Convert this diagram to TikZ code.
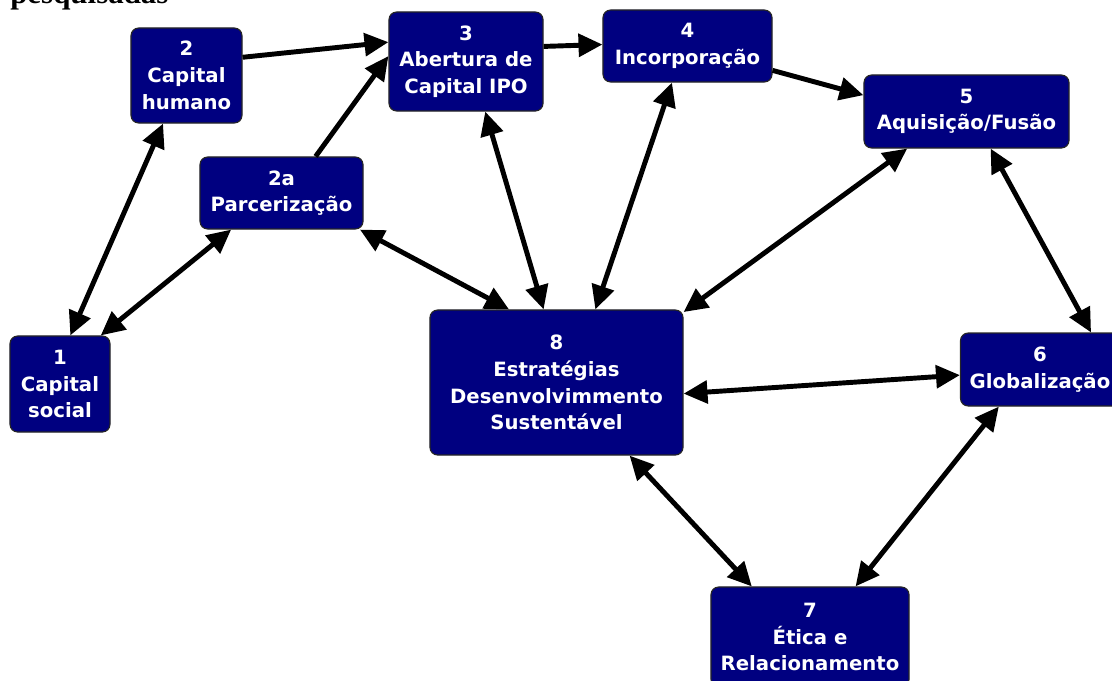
\documentclass[tikz,border=0pt]{standalone}
\usepackage{fontspec}
\setmainfont{DejaVu Sans}
\newfontfamily\titlefont{Liberation Serif}
\usepackage{tikz}
\usetikzlibrary{arrows.meta,positioning}
\definecolor{navybox}{RGB}{0,0,128}

\begin{document}
\begin{tikzpicture}[x=0.025cm,y=-0.025cm,
  box/.style={draw=black!85,line width=0.8pt,fill=navybox,rounded corners=5.5pt,text=white,inner sep=0pt,align=center,font=\fontsize{14}{19}\selectfont\bfseries},
  link/.style={line width=3.5pt,black},
  tip/.style={-{Triangle[length=17pt,width=16pt]}},
  tips/.style={{Triangle[length=17pt,width=16pt]}-{Triangle[length=17pt,width=16pt]}}]
\useasboundingbox (0,0) rectangle (1112,680);
\node[anchor=base west,inner sep=0pt,font=\titlefont\fontsize{22}{22}\selectfont\bfseries] (title) at (10,3) {pesquisadas};
\node[box,minimum width=2.775cm,minimum height=2.375cm] (n2) at (186.5,75.5) {2\\Capital\\humano};
\node[box,minimum width=4.075cm,minimum height=1.8cm] (n2a) at (281.5,193) {2a\\Parcerização};
\node[box,minimum width=3.85cm,minimum height=2.475cm] (n3) at (466,61.5) {3\\Abertura de\\Capital IPO};
\node[box,minimum width=4.225cm,minimum height=1.8cm] (n4) at (687.5,46) {4\\Incorporação};
\node[box,minimum width=5.125cm,minimum height=1.825cm] (n5) at (966.5,111.5) {5\\Aquisição/Fusão};
\node[box,minimum width=2.5cm,minimum height=2.4cm] (n1) at (60,384) {1\\Capital\\social};
\node[box,minimum width=6.325cm,minimum height=3.625cm] (n8) at (556.5,382.5) {8\\Estratégias\\Desenvolvimmento\\Sustentável};
\node[box,minimum width=3.975cm,minimum height=1.825cm] (n6) at (1040,369.5) {6\\Globalização};
\node[box,minimum width=4.95cm,minimum height=2.5cm] (n7) at (810,637) {7\\Ética e\\Relacionamento};
% one-way links
\foreach \a/\b in {n2.18/n3.166, n2a.47/n3.176, n3.11/n4.179, n4.344/n5.171}
  \draw[link,tip] (\a) -- (\b);
% two-way links
\foreach \a/\b in {n1.78/n2.244, n1.50/n2a.216, n2a.335/n8.123, n3.291/n8.100, n4.247/n8.62,
  n5.212/n8.29, n5.303/n6.36, n8.355/n6.184, n8.315/n7.139, n6.222/n7.48}
  \draw[link,tips] (\a) -- (\b);
\end{tikzpicture}
\end{document}
